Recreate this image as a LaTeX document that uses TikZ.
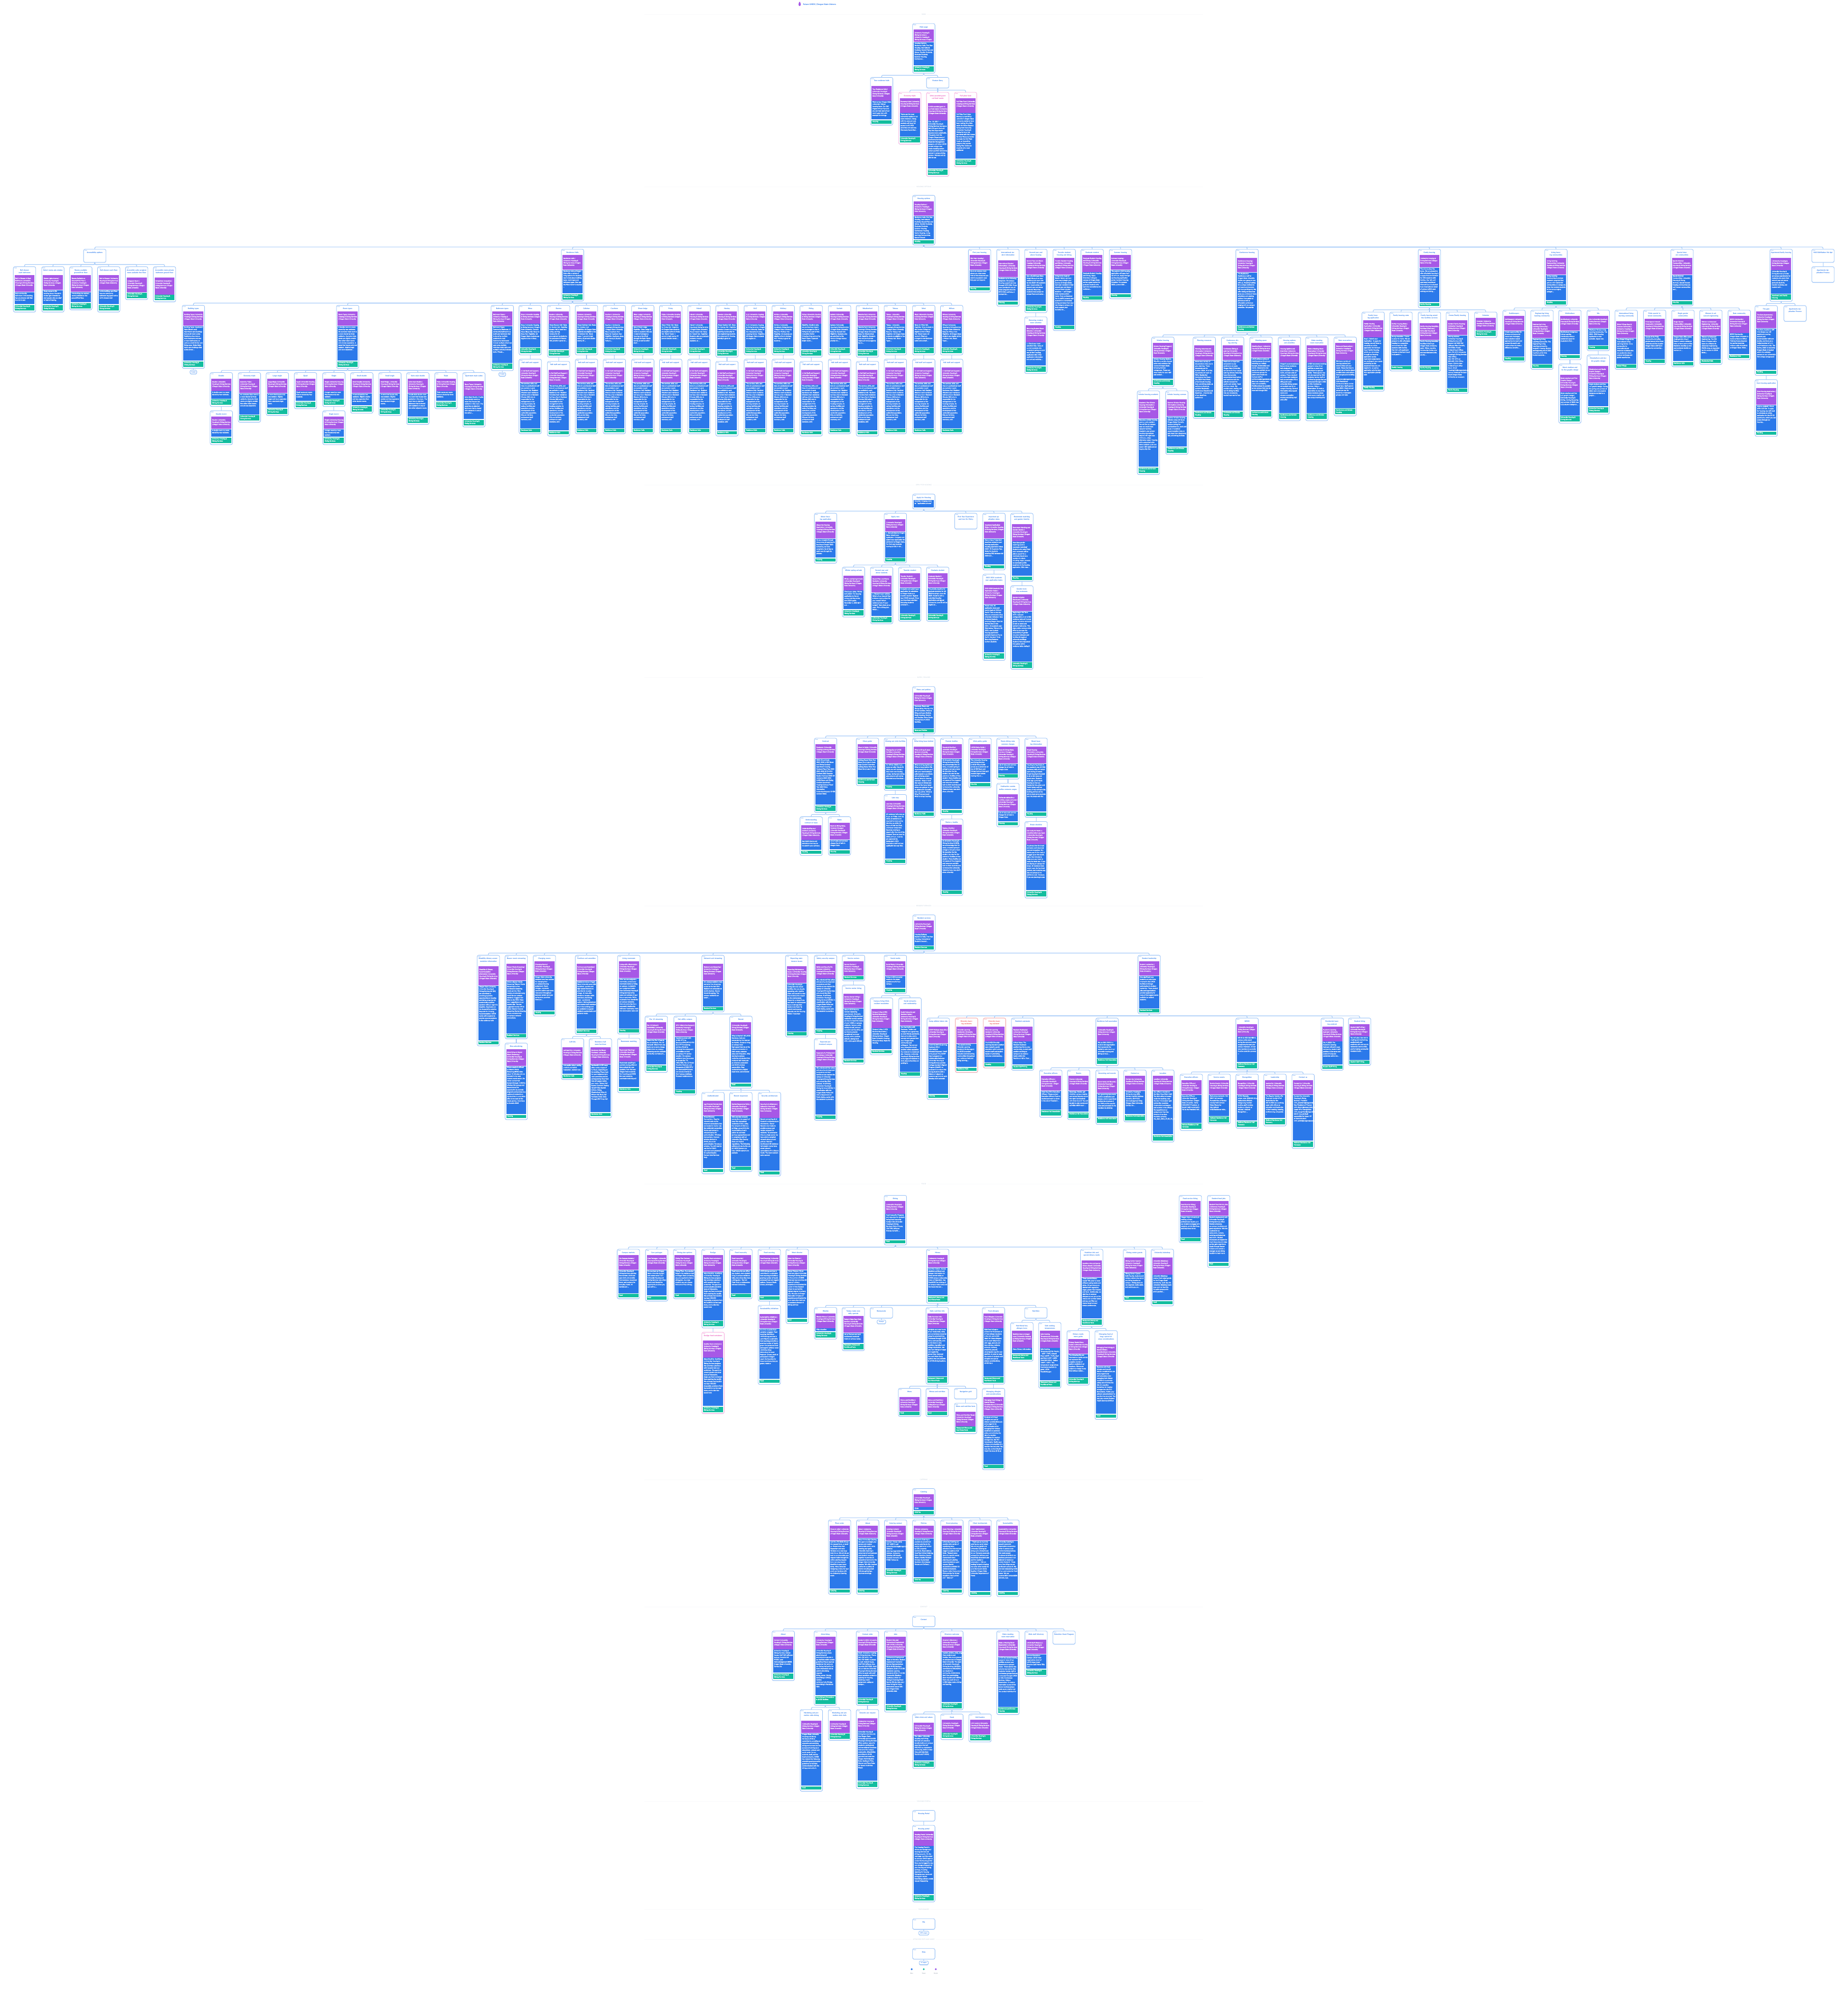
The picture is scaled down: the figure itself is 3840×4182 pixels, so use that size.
\documentclass[tikz,border=0pt]{standalone}
\usepackage{fontspec}
\setmainfont{Lato}
\newfontfamily\bodyfam{Lato}[FakeBold=0.25]
\definecolor{cblued}{HTML}{8DBBF6}\definecolor{cbluet}{HTML}{1A6FEA}
\definecolor{cpinkd}{HTML}{F7A6DC}\definecolor{cpinkt}{HTML}{E63FB0}
\definecolor{credd}{HTML}{F29A9A}\definecolor{credt}{HTML}{E8403F}
\definecolor{cpur}{HTML}{A758E6}\definecolor{cblu}{HTML}{2B79EA}\definecolor{cgrn}{HTML}{12BD9F}
\definecolor{cshad}{HTML}{D3E4FB}\definecolor{cconn}{HTML}{A3C9F8}
\definecolor{csep}{HTML}{F8F9FB}\definecolor{cseptx}{HTML}{C2CEDC}\definecolor{clegtx}{HTML}{8A94A3}
\tikzset{
 cardbox/.style={draw=cdraw,fill=white,rounded corners=3.3,line width=.85,minimum width=46.6pt,inner sep=0,outer sep=0},
 blk/.style={minimum width=41.7pt,inner sep=0,outer sep=0,anchor=north,text=white},
 conn/.style={draw=cconn,line width=1.2,rounded corners=2.4},
 titlenode/.style={anchor=north,text width=42pt,align=center,inner sep=0,text=ctitle,font=\fontsize{3.55}{5.33}\selectfont\bfseries},
 chipbox/.style={draw=cblued,fill=white,rounded corners=2,line width=.9,minimum height=7.6pt,inner sep=0,outer sep=0,anchor=north,text=cbluet,font=\fontsize{3}{4}\selectfont\bfseries},
 septext/.style={fill=white,inner sep=2.5,text=cseptx,font=\fontsize{3.3}{4}\selectfont},
 legtext/.style={text=clegtx,inner sep=0,font=\fontsize{3}{4}\selectfont},
}
\hbadness=10000 \vbadness=10000 \hfuzz=100pt \vfuzz=100pt
\newbox\cbxa \newbox\cbxb
\def\parsecounts#1 #2 #3 #4\relax{\def\cT{#1}\def\cP{#2}\def\cB{#3}\def\cG{#4}}
\newcommand\blocktext[4]{% height, top pad, lines, text
 \hbox to 41.7pt{\hskip1.7pt\vbox to #1pt{\vskip#2pt\relax
 \setbox\cbxa=\vbox{\hsize=38.8pt\parindent=0pt\raggedright\hyphenpenalty=10000\exhyphenpenalty=10000\tolerance=10000
 \bodyfam\fontsize{3.3}{4.67}\selectfont #4\par}%
 \splittopskip=0pt\splitmaxdepth=\maxdimen
 \setbox\cbxb=\vsplit\cbxa to \dimexpr4.67pt*#3+.3pt\relax
 \box\cbxb\vss}\hss}}
\def\roottop{49}
\newcommand\card[9][blue]{%
 \parsecounts#5\relax
 \colorlet{cdraw}{c#1d}\colorlet{ctitle}{c#1t}%
 \ifcsname cb@#3\endcsname\pgfmathsetmacro\cTop{\csname cb@#3\endcsname+9}\else\let\cTop\roottop\fi
 \pgfmathsetmacro\cYa{\cTop+12.3+5.33*(\cT-1)}%
 \pgfmathsetmacro\cHp{(\cP>0)*(4.67*\cP+7)}%
 \pgfmathsetmacro\cHb{(\cB>0)*(4.67*\cB+1.5)}%
 \pgfmathsetmacro\cHg{(\cG>0)*(4.67*\cG+2)}%
 \pgfmathsetmacro\cGa{and(\cP>0,or(\cB>0,\cG>0))*.7}%
 \pgfmathsetmacro\cGb{and(\cB>0,\cG>0)*1.7}%
 \pgfmathsetmacro\cYb{\cYa+\cHp+\cGa}%
 \pgfmathsetmacro\cYc{\cYb+\cHb+\cGb}%
 \pgfmathsetmacro\cBot{ifthenelse(\cP+\cB+\cG>0,\cYc+\cHg+3,\cTop+22+5.33*(\cT-1))}%
 \pgfmathsetmacro\cHt{\cBot-\cTop}%
 \pgfmathsetmacro\cLf{#4-23.3}\pgfmathsetmacro\cRt{#4+23.3}%
 \pgfmathsetmacro\cSa{\cTop+2}\pgfmathsetmacro\cSb{\cBot+1.1}%
 \pgfmathsetmacro\cDy{\cTop+2.6}\pgfmathsetmacro\cTy{\cTop+5.6}%
 \expandafter\xdef\csname cb@#2\endcsname{\cBot}\expandafter\xdef\csname cx@#2\endcsname{#4}%
 \fill[cshad,rounded corners=3.3] (\cLf,\cSa) rectangle (\cRt,\cSb);
 \node[cardbox,anchor=north,minimum height=\cHt pt] (#2) at (#4,\cTop) {};
 \ifcsname cb@#3\endcsname\draw[conn] (#3.south) -- ++(0,4.5) -| (#2.north);\fi
 \foreach \dd in {2.8,4.6,6.4}{\fill[cdraw!60!ctitle] (\cLf+\dd,\cDy) circle (.62);}
 \node[titlenode] (#2-t) at (#4,\cTy) {#6};
 \ifnum\cP>0 \node[blk,fill=cpur,minimum height=\cHp pt] (#2-p) at (#4,\cYa) {\blocktext{\cHp}{5.4}{\cP}{#7 | University Housing \& Dining Services | Oregon State University}};\fi
 \ifnum\cB>0 \node[blk,fill=cblu,minimum height=\cHb pt] (#2-b) at (#4,\cYb) {\blocktext{\cHb}{.9}{\cB}{#8}};\fi
 \ifnum\cG>0 \node[blk,fill=cgrn,minimum height=\cHg pt] (#2-g) at (#4,\cYc) {\blocktext{\cHg}{1}{\cG}{#9}};\fi
}
\newcommand\chip[4]{%
 \pgfmathsetmacro\cTop{\csname cb@#2\endcsname+4}%
 \pgfmathsetmacro\cSa{\cTop+2}\pgfmathsetmacro\cSb{\cTop+9}%
 \pgfmathsetmacro\cLf{\csname cx@#2\endcsname-#3/2}\pgfmathsetmacro\cRt{\csname cx@#2\endcsname+#3/2}%
 \fill[cshad!80!cblued,rounded corners=2] (\cLf,\cSa) rectangle (\cRt,\cSb);
 \node[chipbox,minimum width=#3pt] (#1) at (\csname cx@#2\endcsname,\cTop) {#4};
 \draw[conn] (#2.south) -- (#1.north);}
\newcommand\sepline[4]{% id y text halfgap
 \node[septext] (#1) at (1920,#2) {#3};
 \draw[csep,line width=.7] (1340,#2) -- (#1.west);
 \draw[csep,line width=.7] (#1.east) -- (2500,#2);}
\def\UD{University Housing \& Dining Services}
\def\GH{Housing}\def\GR{Residence Halls}\def\GS{Resident Services}\def\GF{Food}
\def\GC{Conference and Scholar Housing}\def\GA{Family Housing}\def\GM{Restaurant Menus and Nutritional Facts}
\def\GN{National Residence Hall Honorary}\def\GL{Residence Hall Association}\def\GT{Catering}
\def\HS{The services, skills, and time of a professional staff are available in each Residence Hall. Resident Directors Each residence hall has a live-in Resident Director (RD) who is responsible for the management of the housing complex, its various facilities and operations, and the development of the residential population. RDs are full-time, professional staff members, with}
\newcommand\hallcard[6]{% id cx name counts ptext btext
 \card{#1}{rh}{#2}{#4}{#3}{#5}{#6}{\UD}
 \card{#1s}{#1}{#2}{2 5 20 1}{Hall staff and support}{In Hall Staff and Support}{\HS}{\GR}}
\begin{document}
\begin{tikzpicture}[x=1pt,y=-1pt]
\useasboundingbox (0,0) rectangle (3840,4182);
\fill[white] (0,0) rectangle (3840,4182);
% header
\fill[cpur] (1662,9) ellipse (2.4 and 3.6);
\fill[cpur] (1662,5.2) circle (1.6);
\node[anchor=west,inner sep=0,text=cbluet,font=\fontsize{4.2}{5}\selectfont\bfseries] (hdr) at (1669,9) {Future UHDS | Oregon State Univers};
%%% MAIN
\sepline{s1}{30}{MAIN}{0}
\def\roottop{49}
\card{main}{-}{1920}{1 4 10 2}{Main page}{University Housing \& Dining Services |}{Housing Options, Residence Halls, First Year Housing, International Students, Second Year and Above, Transfer Students, Graduate Students, Summer Housing, Conference ...}{\UD}
\card{tour}{main}{1832.5}{2 5 8 1}{Tour residence halls}{Tour Residence Halls}{Want to tour Oregon State University? Virtual housing tours: Our 360 Degree Virtual Tours let you see how each of our room types look with example furnishings.}{\GH}
\card{feat}{main}{1949}{1 0 0 0}{Feature Story}{}{}{}
\card[pink]{econ}{feat}{1891}{1 5 10 2}{Economy triple}{Economy triple}{Triples are the most economical option in our room inventory. Along with the reduced cost, students still have full access to all UHDS amenities and services. One study found that ...}{\UD}
\card[pink]{ufals}{feat}{1949}{3 6 21 2}{Uhds awarded grant cut food waste}{UHDS awarded grant to cut food waste}{Dec. 18, 2017 --- University Housing \& Dining Services has won a \$47,372 grant that will help the department become more sustainable. The grant, from the Oregon Department of Environmental Quality's Materials Management program, will allow UHDS to start using a new waste-tracking system called LeanPath behind the scenes in campus dining centers. Workers will be able to use}{\UD}
\card[pink]{fplate}{feat}{2007}{1 5 20 2}{Full plate fund}{Full Plate Fund}{Full Plate Fund helps Beavers in need Since June 2017, Oregon State University residents have been making life a little easier for fellow Beavers facing food insecurity. University Housing \& Dining Services has partnered with the Human Services Resource Center to create the Full Plate Fund, an innovative program that awards Dining Plan Dollars to students who need additional}{\UD}
%%% HOUSING OPTIONS
\sepline{s2}{388}{HOUSING OPTIONS}{0}
\def\roottop{406}
\card{hopt}{-}{1920}{1 5 10 1}{Housing options}{Housing Options}{Residence Halls, First Year Housing, International Students, Second Year and Above, Transfer Students, Graduate Students, Summer Housing, Conference Housing, Family Housing, Living Learning Communities, Special Interest Communities, Apartments ...}{\GH}
\card{acc}{hopt}{197}{2 0 0 0}{Accessibility options}{}{}{}
\card{ac1}{acc}{51}{2 6 5 2}{Roll shower each bathroom}{Roll-In Shower In Each Bathroom}{Each community bathroom in this building has one shower stall that is a roll-in stall.}{\UD}
\card{ac2}{acc}{110}{2 5 6 2}{Select rooms ada strobes}{Strobe Lights Alarms}{Some rooms in this building have a fire alarm strobe light intended to alert people who are deaf or hard of hearing.}{\UD}
\card{ac3}{acc}{168}{2 6 4 2}{Rooms available ground/first floor}{Rooms Available on Ground/First Floor}{This building has resident rooms available on the ground/first floor.}{\UD}
\card{ac4}{acc}{226}{2 5 6 2}{Roll shower each floor}{Roll-In Shower}{In this building, each floor has one community bathroom equipped with a roll-in shower stall.}{\UD}
\card{ac5}{acc}{284}{3 5 0 2}{Accessible suite caregiver room available first floor}{Caregiver Room}{}{\UD}
\card{ac6}{acc}{342}{3 6 0 2}{Accessible room private bathroom ground floor}{Wheelchair Accessible}{}{\UD}
\card{rh}{hopt}{1190}{1 5 10 2}{Residence Halls}{Residence Halls}{Residence halls at Oregon State offer a variety of living options for students. Learn more about building types, room types and bathroom types, then use the filters below to explore ...}{\UD}
\card{btyp}{rh}{402}{1 5 15 2}{Building types}{Building Types}{Building Types. Apartment Style (Halsell only) Apartment-style buildings have multi-room suites. Residents share two or more bedrooms and one or more bathrooms, as well as a small kitchen and living room. Suites Style. Suite-style buildings offer suites where ...}{\UD}
\chip{btypc}{btyp}{14}{4 pages}
\card{rtyp}{rh}{722.6}{1 5 15 2}{Room types}{Room Types}{A double room is a room shared by two residents. An economy triple room is a room shared by three residents. Economy triple rooms are slightly smaller than other triple rooms and are less expensive. A room that houses only one resident. Slightly larger and more expensive ...}{\UD}
\card{r1}{rtyp}{460}{1 4 3 2}{Double}{Double}{A double room is a room shared by two residents.}{\UD}
\card{r1c}{r1}{460}{1 4 3 2}{Double (cont.)}{Double}{A double room is a room shared by two residents.}{\UD}
\card{r2}{rtyp}{518.5}{1 5 9 2}{Economy triple}{Economy Triple}{An economy triple room is a room shared by three residents. Economy triple rooms are slightly smaller than other triple rooms and are less expensive.}{\UD}
\card{r3}{rtyp}{576.5}{1 5 6 2}{Large single}{Large Single}{A room that houses only one resident. Slightly larger and more expensive than a standard single room.}{\UD}
\card{r4}{rtyp}{635}{1 4 4 2}{Quad}{Quad}{Quad rooms are rooms that are shared by four students.}{\UD}
\card{r5}{rtyp}{694}{1 4 3 2}{Single}{Single}{A single room is a room that houses only one resident.}{\UD}
\card{r5c}{r5}{694}{1 4 3 2}{Single (cont.)}{Single}{A single room is a room that houses only one resident.}{\UD}
\card{r6}{rtyp}{752}{1 5 5 2}{Small double}{Small Double}{A room shared by two residents. Slightly smaller and less expensive than other double rooms.}{\UD}
\card{r7}{rtyp}{810.5}{1 5 6 2}{Small single}{Small Single}{A room that houses only one resident. Slightly smaller and less expensive than standard single rooms.}{\UD}
\card{r8}{rtyp}{868.5}{1 5 10 2}{Suite style double}{Suite Style Double}{A suite style double room is a room that houses two residents in the room. The room has an attached bathroom that is shared with residents in one or two other adjacent rooms.}{\UD}
\card{r9}{rtyp}{927}{1 4 4 2}{Triple}{Triple}{Triple rooms are rooms that are shared by three residents.}{\UD}
\card{r10}{rtyp}{985}{2 5 10 2}{Apartment style suites}{Room Types}{Suite Style Double. A suite style double room is a room that houses two residents in the room. The room has an attached bathroom that is shared with residents in one or two other ...}{\UD}
\card{btb}{rh}{1044}{1 5 16 2}{Bathroom types}{Bathroom Types}{Bathroom Types. Community Bathroom. A community bathroom is a multi-user bathroom that is shared by multiple residents in a hall. Community bathrooms include multiple sinks in an open area, multiple individual toilet stalls and multiple individual shower stalls. Private ...}{\UD}
\chip{btbc}{btb}{14}{3 pages}
\hallcard{h1}{1102}{Bloss}{1 4 10 2}{Bloss}{Bloss | University Housing \& Dining Services | Oregon State University. Contact. About Bloss Hall. Rates for Bloss Hall. Eligibility: All Oregon State students are eligible to live in Bloss ...}
\hallcard{h2}{1161}{Buxton}{1 4 11 2}{Buxton}{About Buxton Hall. Rates for Buxton Hall. Eligibility: Buxton Hall is home to a Living Learning Community for pre-engineering students. For placement in Buxton Hall, priority is given to ...}
\hallcard{h3}{1219}{Callahan}{1 4 10 2}{Callahan}{About Callahan Hall. Rates for Callahan Hall. Eligibility: All Oregon State students are eligible to live in Callahan Hall. Room types: 1 percent single rooms, 43 percent double rooms, 56 ...}
\hallcard{h4}{1277}{Cauthorn}{1 4 10 2}{Cauthorn}{Cauthorn | University Housing \& Dining Services | Oregon State University. About Cauthorn Hall. Rates for Cauthorn Hall. Eligibility: Cauthorn, along with Hawley \& Buxton Halls, is ...}
\hallcard{h5}{1336}{Dixon lodge}{1 5 9 2}{Dixon Lodge}{About Dixon Lodge. Eligibility: Dixon Lodge is home to students who are in need of emergency housing as identified through the Basic Needs Center, as well as other short ...}
\hallcard{h6}{1394}{Finley}{1 4 10 2}{Finley}{About Finley Hall. Rates for Finley Hall. Eligibility: All Oregon State students are eligible to live in Finley Hall. Room Types: 1 percent single rooms, 99 percent double rooms ...}
\hallcard{h7}{1453}{Halsell}{1 4 10 2}{Halsell}{Halsell | University Housing \& Dining Services | Oregon State University. About Halsell Hall. Rates for Halsell Hall. Eligibility: Students who are graduate students, transfer students, or ...}
\hallcard{h8}{1511}{Hawley}{1 4 11 2}{Hawley}{About Hawley Hall. Rates for Hawley Hall. Eligibility: Hawley is home to a Living Learning Community for pre-engineering students. For placement in Hawley, priority is given to ...}
\hallcard{h9}{1570}{ILLC}{1 4 10 2}{ILLC}{ILLC | University Housing \& Dining Services | Oregon State University. Rates for the International Living Learning Center. Eligibility: All Oregon State students are eligible to ...}
\hallcard{h10}{1628}{McNary}{1 4 10 2}{McNary}{McNary | University Housing \& Dining Services | Oregon State University. Rates for McNary Hall. Eligibility: All students are eligible to live in McNary Hall. Priority is given to students ...}
\hallcard{h11}{1686}{Poling}{1 4 11 2}{Poling}{Eligibility: Students who are pre-Business majors are encouraged to live in Poling to be a part of the Innovation Nation living-learning community. Room Types: 3 percent single rooms ...}
\hallcard{h12}{1745}{Sackett}{1 4 10 2}{Sackett}{Sackett | University Housing \& Dining Services | Oregon State University. Rates for Sackett Hall. Eligibility: Students who are admitted to the Honors College receive priority for ...}
\hallcard{h13}{1803}{Weatherford}{1 5 10 2}{Weatherford}{Weatherford | University Housing \& Dining Services | Oregon State University. Rates for Weatherford Hall. Eligibility: Students who are pre-business majors are encouraged to live in ...}
\hallcard{h14}{1861}{Tebeau}{1 4 10 2}{Tebeau}{Tebeau | University Housing \& Dining Services | Oregon State University. Rates for Tebeau Hall. Eligibility: All Oregon State students are eligible to live in Tebeau Hall. Room Types ...}
\hallcard{h15}{1920}{West}{1 4 10 2}{West}{Rates for West Hall. Eligibility: Only students in the Honors College are eligible to live in West Hall. Room types: All rooms in West are arranged in two-bedroom suites and a small ...}
\hallcard{h16}{1978}{Wilson}{1 4 10 2}{Wilson}{Wilson | University Housing \& Dining Services | Oregon State University. Rates for Wilson Hall. Eligibility: All Oregon State students are eligible to live in Wilson Hall. Room Types ...}
\card{fy}{hopt}{2036}{1 5 7 1}{First year housing}{First Year Housing}{As an on-campus room places you steps away from all the resources you need to succeed in your first year and beyond.}{\GH}
\card{intl}{hopt}{2095}{3 6 10 1}{International student information}{International Student Information}{Available to the following programs: On-campus housing support services through INTO OSU. If you were admitted in one of those programs into the INTO OSU pathway, or contact the ...}{\GH}
\card{sec}{hopt}{2153}{2 6 13 2}{Second-year and above housing}{Second Year and Above Housing}{Get a \$1,000 loyal (Beta living) discount on your residence hall room rate for the 2023--24 academic year. Communities for second-year and above students: Returning students have access for unique floors and suites ...}{\UD}
\card{secr}{sec}{2153}{2 6 10 2}{Returning student room selection}{Returning Student Room Selection}{1. Check your room selection time. Here, all current students who completed spring one and two of their housing application/she initial application information are contract-existing ...}{\UD}
\card{trans}{hopt}{2212}{2 6 22 1}{Transfer student housing and dining}{Transfer Student Housing and Dining}{Living in the heart of Beaver Nation can be a great way to begin your journey at Oregon State. Each year students in their second year and above --- many of them transfer students --- call Oregon State residence halls home. From professional live-in staff to answer your questions to convenient dining and steps from your hall, living on campus can truly support your transition to ...}{\GH}
\card{grad}{hopt}{2270}{1 6 10 1}{Graduate student}{Graduate Student Housing and Dining}{Graduate Student Housing and Dining. Apply. Overview. Living on campus at Oregon State can be a great option for graduate students who want the convenience of a residence ...}{\GH}
\card{summ}{hopt}{2329}{1 5 10 1}{Summer housing}{Summer Housing}{The summer 2023 housing application will open April 26 at 9 a.m. Apply through our housing application portal. Summer Housing Schedule. For summer 2023, current OSU ...}{\GH}
\card{conf}{hopt}{2592}{2 5 23 2}{Conference housing}{Conference Housing}{The Residential Conference staff at Oregon State University invites your group to stay with us. Amazing hosting for a unique conference and event environment. We have participants! We offer dining services that gives you a choice of many selections and catering options from salads to dinners as well as affordable conference lodging with on-campus amenities. We provide}{\GC}
\card{cf1}{conf}{2417}{1 5 9 2}{Scholar housing}{Scholar Housing Program}{Scholar Housing Options. We offer a variety of great suites and residence hall rooms at Oregon State. Scholarly/Scholar newsgroups. Please see more rooms for your visit and contact ...}{\GC}
\card{cf1a}{cf1}{2387}{2 7 21 2}{Scholar housing academic}{Academic Year Scholar Housing Information}{Become a scholar housing room or suite resident. You will live on campus near our world class research facilities. Academic year scholar housing reservations require a 90 night stay minimum, unless otherwise noted. Housing with customized suite dates available up to one search 180 nights and an inquiry after the}{\GC}
\card{cf1b}{cf1}{2446}{2 6 13 2}{Scholar housing summer}{Summer Scholar Housing Information}{Summer Scholar Housing: Scholars enjoy will be an Oregon State! Corvallis campus during the summertime fun, work and study in furnished accommodation that are just steps from classrooms, labs, and dining facilities.}{\GC}
\card{cf2}{conf}{2503}{2 5 22 2}{Planning resources}{Planning resources and information}{Below are a variety of documents to help you in your planning. These documents are for Summer 2024. All of the documents will open as PDFs. Residential Conference Fee Sheet - Day 2024 Meal Week, prices include housing, linen, and dining totals, as well as an otherwise available Residential Conference Checklist and Deadlines - Checklist list of our deadlines, conference}{\GC}
\card{cf3}{conf}{2562}{2 5 22 2}{Conference dining catering}{Conference Dining \& catering}{Meals are an important component to any conference or event. Oregon State University can serve all of our casual catering delivery featuring items that provide concentrated food where and mealtime with the catholic mansard for quality and variety. Food of all our meals. We provide clean, roofing, and well-lit dining facilities that are consistently located near each of our}{\GC}
\card{cf4}{conf}{2621}{1 5 23 2}{Meeting space}{Meeting Space}{UHDS offers a variety of meeting spaces for groups including our holiday lounges, kitchenettes and rooms. Classrooms area spaces are available to our conference groups for public and private use. Contact staff at conference@oregonstate.edu about our meeting room rates and availability. Multifunctional is available across campus that may be reserved through OSU}{\GC}
\card{cf5}{conf}{2680}{2 6 22 2}{Housing options and amenities}{Housing Options and Amenities}{Oregon's accommodations feature three residence halls designed to accommodate in the west, north, and east sides of campus. These standard and suite-style residence halls accommodate 90 to 600 guests each. University dining centers are located near all on campus housing. General information about guest rooms and elevator-accessible wireless and dining mail units offer}{\GC}
\card{cf6}{conf}{2737}{2 6 22 2}{Make meeting room reservation}{Make a Meeting Room Reservation}{UHDS has several meeting spaces in many of our facilities to meet your department or group's needs. These spaces may only be reserved by OSU students, faculty, staff or conference groups that are contracted through UHDS or OSU Conference Services. Make a Reservation: To make a reservation at any of the below locations please send us an e-mail or call the contact individual for}{\GC}
\card{cf7}{conf}{2796}{1 6 21 2}{Rate reservations}{Rates and Reservations}{We have a variety of housing options (and rates) to help suit your needs. Please feel free to contact us to inquire about possible dates and options because group is travelling at all conference@oregonstate.edu. 2024 Residential Conference Rates can be found here. Staff open in June 2024. Meals are per person per day for students or teenagers groups, and rates}{\GC}
\card{fam}{hopt}{2971}{1 4 15 1}{Family housing}{}{There is no place like home. We are pleased to offer affordable housing in a supportive environment for OSU students with families. Our 161-unit apartment complex at Orchard Court is situated in an international corner of campus within easy walking and biking ...}{\GA}
\card{fm1}{fam}{2854}{2 6 21 1}{Family housing application}{Family Housing Application}{Step 1: Submit your Application. To apply for housing, you will have to complete an online application for Orchard Court Family Housing, which you can access through our housing application portal. Apartment assignments are contingent upon space availability on the placement fuse you are eligible for, as well as application priority date. Your application priority date}{\GA}
\card{fm2}{fam}{2912}{2 5 13 1}{Family housing rates}{Family Housing Rates}{Rising Amenities. Thanks to place for home, We are pleased to offer affordable housing in a supportive environment for OSU students with families. Our 161-unit apartment complex at Orchard Court is situated in ...}{\GA}
\card{fm3}{fam}{2971}{3 6 11 1}{Family housing amenities facilities services}{Family Housing Amenities, Facilities \& Services}{Family Housing Amenities, Facilities \& Services: Oregon State University apply. Water, Laundry, Community Center, one and two-bedroom units, on-site ...}{\GA}
\card{fm4}{fam}{3029}{2 5 23 1}{Comm/Family housing}{Contact Family Housing}{Mailing Address: University Housing \& Dining Services 102 Buxton Hall 1835 SW Jefferson Way Corvallis, OR 97331 Phone: Orchard Court Office: 541-737-4771 University Housing \& Dining Services Main Office: 541-737-4771 or 800-639-1761 Office Hours: Click to view Orchard Court office hours. Email: HousingInfo@oregonstate.edu Use our Universal Orchard Court Oregon State University as necessary}{\GA}
\card{fm5}{fam}{3088}{1 4 0 2}{Calendar}{Calendar}{}{\UD}
\card{llc}{hopt}{3234}{2 6 11 1}{Living learning communities}{Living Learning Communities}{Living Learning Communities (LLCs) are academic programs that partner with residential communities on campus to allow like-minded students to live across majors, colleges ...}{\GH}
\card{ll1}{llc}{3147}{1 5 11 1}{Earthkeepers}{Earthkeepers}{Create opportunities for diverse environmental issues and challenges, share solutions based approaches to reach and protect the earth, and inspire others to make a difference, benefits ...}{\GH}
\card{ll2}{llc}{3205}{3 6 11 1}{Engineering living learning community}{Engineering Living Learning Community}{Engineering Living Learning Community. The Engineering Living Learning community, located in Hawley, Buxton and beginning fall of 2019 Cauthorn, is for fully funded students ...}{\GH}
\card{ll3}{llc}{3263}{1 5 10 1}{Multiculture}{Multiculture}{Multicultural Indigenous Living Learning Community offers a residential space for students to find ...}{\GH}
\card{ll3a}{ll3}{3263}{3 6 10 2}{Music studium and its fine graphic design}{Music studium and Fine Graphic Design}{Music studium and fine LLC graphic design | University Housing \& Dining. During the spring and summer of 2022, two LLCs student designers ...}{\UD}
\card{ll4}{llc}{3322}{1 4 7 1}{Mu}{Mu}{Westburn Terrace Living Learning Community. The 2023--2024 housing application is now available. Apply now.}{\GH}
\card{ll4a}{ll4}{3322}{3 6 10 2}{Muralculture and studio graphic design}{Muralculture and Studio Graphic Design}{Music studium and Fine LLC graphic design. During the spring and summer of 2022, two LLCs student designers worked on a project ...}{\UD}
\card{sic}{hopt}{3496}{2 6 11 1}{Special interest communities}{Special Interest Communities}{Special Interest Communities | University Housing \& Dining Services. Special interest housing communities are well-known communities and ...}{\GH}
\card{si1}{sic}{3380}{3 6 11 1}{International living learning community}{Global Village Special Interest Community}{The Global Village is the International Living Learning Center. It is a community for international and American students who are passionate about cultural exchange and global experiences.}{Global Village}
\card{si2}{sic}{3439}{2 6 10 1}{Pride special interest community}{Pride Special Interest Community}{Guests of the Pride Community, including gender/sexual minoritized residents and the broader Oregon State LGBTQIA+ community connecting ...}{\GH}
\card{si3}{sic}{3498}{2 6 11 1}{Single gender communities}{Single Gender Communities}{Oregon State offers some single gender wing or floors in certain residence halls, to have communities: Residents identify as men and residents identify as women on ...}{Residence Halls}
\card{si4}{sic}{3556}{2 6 10 1}{Women in advanced engineering}{Women in Advanced Engineering}{Women in Advanced Engineering: The fifth floor of Buxton hall is home to a Women in Advanced Engineering (WAE) wing, as requested by the women in STEM fields ...}{Residential Halls}
\card{si5}{sic}{3615}{1 6 9 1}{Rate community}{ROTC Community}{ROTC Community. Oregon State University is home to Reserve Officer Training Corps programs for service branches, military units of students at Oregon State. More ...}{Residence Halls}
\card{apf}{hopt}{3702}{2 4 10 2}{Apartment/family housing}{}{University Housing \& Dining Services provides on-campus apartments for students who are in their second year and above, graduate students, transfer students, and student with ...}{Apartment and Family Housing}
\card{gem}{apf}{3671}{1 6 18 1}{The gem}{The Gem Apartments}{The Gem, located on SW 11th Street, has 129 apartments serving second-year students/older with one studios, but there are a limited number of 1, 2-, and 4-bedroom units. The facility, which is owned by Oregon State, is located within the walkable campus on our university's first college campground.}{\GH}
\card{gema}{gem}{3671}{2 6 11 1}{Gem housing application}{Gem Housing Application}{2023 to SUBMIT YOUR APPLICATION. To apply for housing, you will need to complete an online application for the 22-23 apartments, which you can access through our housing ...}{\GH}
\card{apa}{apf}{3731}{3 0 0 0}{Apartments Application Process}{}{}{}
\card{has}{hopt}{3789}{2 0 0 0}{HAS EAMilation Mx Apt}{}{}{}
\card{hasa}{has}{3789}{3 0 0 0}{Apartments Application Process}{}{}{}
%%% APPLY
\sepline{s3}{1008}{APPLY FOR HOUSING}{0}
\def\roottop{1027}
\card{app}{-}{1920}{1 0 3 0}{Apply for Housing}{}{Consider changing name to ``application process''}{}
\card{ap1}{app}{1716}{2 6 8 1}{About housing application}{About the Housing Application}{As you navigate through the process of applying for housing at Oregon State University, we have compiled a list of tips to assist you through the process.}{\GH}
\card{ap2}{app}{1861}{1 4 11 1}{Apply now}{}{1. Get admitted to Oregon State. Submit your application. Complete and submit your application for admission to Oregon State. For first-year students moving to OSU in fall ...}{\GH}
\card{ap2a}{ap2}{1774}{2 5 8 2}{Winter spring arrivals}{Winter and Spring Arrivals}{Check your dates. Winter term 2024: The housing application to live on campus starting winter term 2024 opens November 1, 2023 @ 9 p.m. ...}{\UD}
\card{ap2b}{ap2}{1832.5}{2 6 10 2}{Second year and above students}{Second Year and Above Students}{1. Research your options. Which of our Second Year \& Above communities fits your needs? Which residence halls fit your budget? Take a look at our rates. Pick a dining plan. Which ...}{\UD}
\card{ap2c}{ap2}{1891}{1 5 11 2}{Transfer student}{Transfer Student}{Complete and submit your application for admission to Oregon State as a transfer student. Register your ONID account. Once you have been admitted (including students enrolled in ...}{\UD}
\card{ap2d}{ap2}{1949}{1 5 11 2}{Graduate student}{Graduate Student}{The priority deadline for graduate students for fall 2023 housing is June 30, 2023. Students with a submitted housing application and signed contract by June 30 will be eligible to ...}{\UD}
\card{ap3}{app}{2007.5}{3 0 0 0}{First Year Experience and Live-On Policy}{}{}{}
\card{ap4}{app}{2066}{2 6 11 1}{Important application dates}{Important Application Dates}{Stay on top of important deadlines related to your housing application. Housing application dates: 2023--24 Academic Year. Dates for students entering OSU between fall 2023 and ...}{\GH}
\card{ap4a}{ap4}{2066}{3 7 21 2}{2023 2024 academic year application dates}{2023-2024 Academic Year Application Dates}{Please note: All application dates and events begin at 9:00 pm Pacific Time on the day they are scheduled unless otherwise indicated. New Students Students entering Oregon State for the first time in the 2021--22 academic year Wednesday, February 10, 2021: new student housing application available (opens at 9 p.m. Pacific Standard Time). Returning Students Current students}{\UD}
\card{ap5}{app}{2124}{3 6 15 1}{Roommate matching and gender identity}{Roommate Matching and Gender Identity}{How does gender matching work in roommate matching? Students who select their own roommate will be able to search for a roommate based on a number of criteria including: major, answers to roommate profile questions in the housing application, OSU class ...}{\GH}
\card{ap5a}{ap5}{2124}{2 6 22 2}{Gender inclusive restrooms}{Gender Inclusive Restrooms}{Beginning in Fall Term 2017, restroom configurations in all UHDS residence halls will include gender inclusive restrooms as well as men's and women's restrooms. This aligns with a campus-wide effort to increase the accessibility of gender inclusive restrooms and facilities throughout university buildings. Students have requested this option within residence halls, stating it}{\UD}
%%% RATES
\sepline{s4}{1408}{RATES / POLICIES}{0}
\def\roottop{1427}
\card{rat}{-}{1920}{1 4 10 1}{Rates and policies}{}{Contracts, Room and Dining Rates, Moving in to UHDS Facilities, What to Bring and Leave Behind, Break Housing, Parents and Families, Policy Guide, Moving Out of UHDS Facilities,}{Rates and Policies}
\card{cont}{rat}{1716}{1 5 20 2}{Contract}{Contracts}{2022-23 contracts 2022-2023 UHDS Room and Dining Contract Apartment Housing Contract Fiscal Year 2023 2022-2023 INTO-OSU Contract 2022 Summer Session Contract 2023-24 contracts 2023-2024 UHDS Room and Dining Contract Apartment Housing Contract Fiscal Year 2024 More Information Understanding your UHDS contract Rates}{\UD}
\card{cont1}{cont}{1686}{2 5 4 1}{Understanding contract or lease}{Understanding your contract}{See helpful terms and definitions that may be included in your contract.}{\GH}
\card{cont2}{cont}{1745}{1 6 4 1}{Rates}{Room \& Dining Rates, Common Charges}{List of rates and common charges for all halls in Oregon State}{\GH}
\card{move}{rat}{1803}{1 5 8 2}{Move guide}{Move In Guide}{Getting Ready Make Your Move Early/Late Arrivals Page Content Overview Getting Ready Make Your Move Early/Late Arrivals}{\GC}
\card{mout}{rat}{1861}{2 6 9 1}{Moving out uhds facilities}{Moving Out of UHDS Facilities}{For Winter 2023, if you move out after March 24, 2023, you will receive a daily room rate housing charge. Spring term dining plan amounts will not be refunded once they have ...}{\GH}
\card{late}{mout}{1861}{1 4 20 1}{Late stay}{Late Stay}{All residence halls close at 9 a.m. on Friday, June 16, 2023; all residents are required to move out by this time or within 24 hours of their last final, whichever comes first. Students needing to depart after the end of the Contract Term on June 16, 2023, at 9 a.m. must be pre-approved by designated UHDS Operations staff and pay applicable late stay fees.}{\GH}
\card{bring}{rat}{1920}{2 6 21 1}{What bring leave behind}{What to Bring \& Leave Behind}{What to bring Appliances What to leave behind We recommend that you work with your roommate(s) or suitemate(s) to coordinate who will bring certain shared items or cleaning materials. Keep in mind that space is limited and many of the items listed below are optional or may be obtained in Corvallis after you arrive. What to Bring Pinterest board What to bring Cleaning}{\GR}
\card{par}{rat}{1978}{1 5 22 1}{Parents families}{Parents \& Families}{At University Housing \& Dining Services (UHDS), we acknowledge that for many, a student going to college is not just a major life transition for the student, but also for the parents or families of that student. Many families are not aware of the programs and resources available both to their students and to them at the university. Federal privacy laws don't allow university}{\GH}
\card{padres}{par}{1978}{1 5 22 1}{Padres y familia}{Padres y Familia}{At University Housing \& Dining Services (UHDS), we acknowledge that for many, a student going to college is not just a major life transition for the student, but also for the parents or families of that student. Many families are not aware of the programs and resources available both to their students and to them at the university. Federal privacy laws don't allow university}{\GH}
\card{pol}{rat}{2037}{1 5 10 1}{Uhds policy guide}{UHDS Policy Guide}{The University Housing and Dining Services (UHDS) Policy Guide serves as an extension of the UHDS Room and Dining Contract that each resident signs before moving into an ...}{\GH}
\card{rdc}{rat}{2095}{2 6 4 1}{Room dining rates common charges}{Room \& Dining Rates, Common Charges}{List of rates and common charges for all halls in Oregon State}{\GH}
\card{rdce}{rdc}{2095}{3 6 4 1}{Habitación comida tarifas comunes cargos}{Tarifas de habitación y comidas, cargos comunes}{List of rates and common charges for all halls in Oregon State}{\GH}
\card{brk}{rat}{2153.5}{2 6 21 1}{Break housing information}{Break Housing Information}{Housing during breaks in the academic year All OSU residence halls will remain open during all breaks. Break Housing is included in all UHDS room and board rates. Students must sign up for break housing so that our Residential Education and Public Safety staff are aware of who will be in the building and we will be able to best serve students over the break with the}{\GH}
\card{brkc}{brk}{2153.5}{1 6 20 2}{Break checklist}{Get ready for break: a checklist before you leave}{It's almost time for break and some well-deserved rest and relaxation. But before you hit the road or snuggle up on the couch, take a few minutes to make sure your room is ready for break too. If you are staying on campus for break: All residence halls remain open during break periods, and residents may stay on campus at no additional cost. However, if you are planning to stay}{\UD}
%%% RESIDENT SERVICES
\sepline{s5}{1883}{RESIDENT SERVICES}{0}
\def\roottop{1901.5}
\card{res}{-}{1920.5}{1 4 5 1}{Resident services}{}{Housing Options: Residence Halls, First Year Housing, International Students Second ...}{\GS}
\card{e1}{res}{1015}{3 7 24 1}{Disability dietary accommodation information}{Disability \& Dietary Accommodation Information}{Oregon State University University Housing \& Dining Services (UHDS) are committed to providing equitable opportunities to housing and dining programs for academically qualified students without regard to disability. Read more on the Accessibility website. Requests for Housing Accommodation: UHDS works with students to provide accommodations in the residence halls}{\GS}
\card{e2}{res}{1073}{2 6 23 1}{Beaver movie streaming}{Beaver Movie Streaming}{What is Beaver Movie Streaming? Beaver Movie Streaming is a free on-demand streaming movie service. New movies are selected every month by our campus residents. Suggest new titles to the NHS. Make your suggestions on our movie's site. The top suggested movies will be added. Beaver Channel Streaming Movies listening is only available from on-campus network connections.}{\GS}
\card{e2a}{e2}{1073}{1 6 21 1}{Bma advertising}{Advertising on Beaver Movie Streaming}{What a movie is offered on Beaver Movie Streaming (BMS) video about 15 minutes and are included in the next streams movie watch, the viewer cannot fast forward through. UHDS is offering OSU groups and departments/the opportunity to promote programs and services to a captive of student by a standard fee in a one-time offer at the start of the movie service. Click Here to Submit a BMS}{\GH}
\card{e3}{res}{1131.5}{1 5 15 1}{Changing rooms}{Changing Rooms}{Oregon State University students have four options for changing their on-campus housing assignment: Room changes, roommate transfers within each term. Homework throughout between winter term and spring term, provided there are ...}{\GH}
\card{e4}{res}{1219}{2 6 21 1}{Furniture and amenities}{Furniture and Amenities}{Residence halls at Oregon State University come fully furnished. Laundry and high-speed internet are provided at no extra charge. All halls offer elevators, lounges, cable television, and dining areas. Laundromat options: Both professional and student staff members live in the buildings and are available to support residents academically and personal needs.}{\GS}
\card{e4a}{e4}{1190}{2 6 4 1}{Loft kits}{Loft Bed Kits}{Information about renting a loft kit and loft kit installation, resident hub.}{Residence Halls}
\card{e4b}{e4}{1248}{2 6 21 1}{Residence hall room furniture}{Residence Hall Room Furniture}{Residential UHDS room offers various types of furniture, depending on the building. Please look for your residence hall's room amenities and the corresponding floor/Item that will appear within your room. Tebeau Hall Buxton Cauthorn Hawley Halsell Finley Sackett McNary Poling, Weatherford, West, \& Wilson Hall Basic Hall Furniture, Desk, Chair, Through SW Finley Hall}{Residence Halls}
\card{e5}{res}{1307}{1 6 22 1}{Living roommate}{Living with a Roommate}{After you are assigned a roommate, contact your roommate before arriving on campus. Included in your assignment letter from University Housing \& Dining Services is the name and address of your future roommate. We're so proud of our wonderful on-campus residents. Here are some tips for a successful relationship with your roommate: Have the conversation early and}{\GH}
\card{e5a}{e5}{1307}{2 5 11 1}{Roommate matching}{Roommate Matching}{Roommate matching is available during different time periods for new students from first year Oregon State students. For incoming and 2023 first year students, roommate matching will}{Residence Halls}
\card{e6}{res}{1482}{2 6 11 1}{Network and streaming}{Network and Streaming}{On-campus residents have exclusive free streaming access to the fast OSU Network on computers or mobile devices. Beaver Movie Streaming, The campus-residents can watch ...}{\GS}
\card{e6a}{e6}{1364}{1 6 11 2}{Pac 12 streaming}{Pac-12 Network Availability}{Watch the Pac-12 sports live at residence. Pac-12 Network. Watch from any device at no extra charge. Watch from on-campus streaming service available on the Pac-12 Network ...}{\UD}
\card{e6b}{e6}{1424}{1 5 23 1}{Get utility campus}{IPTV: Watch On-Demand}{Experience more with UHDS IPTV by Spectrum(TM) (IPTV) IPTV is an IPTV streaming service offered to Oncecast for subsequent universities on their on-campus TV service solution. On-campus residents have live access to stream live TV, HBO/NBA, Pac-12 Power Plus/Pro Premium, and thousands of HBO/IPTV On-Demand(TM) shows and movies directly to their laptops, desktops. Personal mobile devices}{\GH}
\card{e6c}{e6}{1540}{1 4 21 1}{Resnet}{}{What is ResNet? All UHDS Residence Halls are connected by the Internet via ResNet. Students living on campus have high-speed internet of the network connection in their rooms, common areas and living halls. After moving to campus residents and student that residence hall rooms are an ethernet connection and ONID wireless connectivity. New residents have a higher experience, and ethernet}{\GF}
\card{e6c1}{e6c}{1482}{2 5 23 1}{Authenticated}{Log Ethernet Connections}{Wired Ethernet Connections: Plug the network cable to the ethernet connections that are located in rooms. Use the residential connection library and connect a network laptop for authentication. Wireless Connections: Connect wireless devices to ONID\_Secure for authenticated. For secure wireless. You will need to use the full ONID username and password for authentication. Contact Univ Services Help}{\GF}
\card{e6c2}{e6c}{1540}{2 5 22 1}{Resnet responsive}{ResNet Responsive Policy}{OSU provides network connections to support all bona fide educational residents of OSU. Using the network at OSU is a privilege, as such it is the responsibility of each patron to use these services appropriately and in compliance with all University City, County, State and Federal regulations. The following policies and use by the use of UHDS Partners are fully. UHDS network are available}{\GF}
\card{e6c3}{e6c}{1599.5}{2 6 23 1}{Security architecture}{Security \& Architecture}{Resnet connecting all of Student's environments to the Internet. One of Resnet's main tasks to provide a secure and reliable network for residents. To accomplish this on a single server we have strictly compiled network structure and policies. Resnet's Architecture All residence hall student rooms have wired network connections of in a Secure VLAN. The room network jacks connect}{\GF}
\card{e7}{res}{1656}{3 6 21 1}{Reporting maintenance issues}{Reporting Maintenance Issues}{University Housing \& Dining Services values facilities that are visually appealing, safe, healthy, clean, and sound in a way that minimize the impact on the environment. Please let us know if you see repair or maintenance issue or damage that needs to be fixed. To submit maintenance requests use the Housing Portal. If you have}{\GH}
\card{e8}{res}{1716}{2 5 22 1}{Safety security campus}{Safety and Security On Campus}{We understand that safety and security are important to students and their families as you explore the variety of University Housing \& Dining Services and around the OSU Campus. At all times, University Housing \& Dining Services (UHDS), in coordination with the Oregon State Police and OSU's Department of Public Safety, works with the students to provide a}{\GH}
\card{e8a}{e8}{1716}{3 6 21 1}{Expected professional campus}{Expected of a Professional on Campus}{We understand that safety and security are important to students and their families as you explore the variety of University Housing \& Dining Services and around the OSU Campus. At all times, University Housing \& Dining Services (UHDS), in coordination with the Oregon State Police and OSU's Department of Public Safety, works with the students to provide a}{\GH}
\card{e9}{res}{1774}{1 5 0 1}{Service centers}{Service Centers}{}{\GS}
\card{e9a}{e9}{1774}{2 5 22 1}{Service center hiring}{Service Center Hiring}{About UHDS Service Centers Operating experienced, University Housing \& Dining Services' residential service centers are how to meet the needs of over 4,500 on-campus residents. Serves a wide variety of staff, and our customer service skills, can be hired to provide exceptional customer service, with a positive attitude, strong work ethic, and a good attitude}{\GS}
\card{e10}{res}{1861}{1 5 5 1}{Social media}{Social Media}{Follow UHDS on social media for the latest updates on all of our campus.}{\GH}
\card{e10a}{e10}{1832}{3 7 9 1}{Campus living/Uhds resident newsletter}{Campus Living UHDS Resident Newsletter}{Campus Living: UHDS Resident Newsletter | University Housing \& Dining Services. Oregon State University Housing Dining Services, Apply Go Housing.}{\GS}
\card{e10b}{e10}{1891.5}{3 6 20 1}{Social networks and residentship}{Social Networks and Resident Safety}{Our fascination with Facebook, Twitter and Instagram are a great way to meet friends and family, stay up-to-date, and to connect with people from your Oregon State community and colleagues. You can use your networks to build positive online reputation. Our network is a balanced site. However, University Housing \& Dining Services encourages all residents to think about what they are posting to}{\GH}
\card{e11}{res}{2388.5}{1 5 14 1}{Student leadership}{Student Leadership}{One significant way students are able to be involved in the UHDS facilities is through participation in student leadership. These student jobs and organizations provide leadership for many of the largest events available to resident students.}{\GS}
\card{l1}{e11}{1950}{2 6 22 1}{Camp athlete intern site}{CAMP Athlete Intern Site}{CAMP (CAMP 4) Learning Assistant (ESL) | International Mindset/Explored. CAMP is Facebook! The CAMP intern program is a collaboration between University Housing \& Dining Services and the College Assistant Migrant Program (CAMP). Its purpose is to ensure that young students with a history of migrant or seasonal agricultural work develop their potential}{\GH}
\card[red]{l2}{e11}{2009}{2 6 10 1}{Diversity learning assistants}{Diversity Learning Assistants}{The award-winning Diversity Learning Assistant (DLA) program to UHDS promotes inclusion and welcoming communities throughout our residence halls and living-learning ...}{Residence Halls}
\card[red]{l3}{e11}{2067}{2 5 9 1}{Diversity learning assistant}{Diversity Learning Assistant}{The UHDS Diversity Learning Assistant position was created to assist education within and with student staff and student leaders in promoting inclusive understanding ...}{\GH}
\card{l4}{e11}{2125.5}{2 5 10 1}{Resident assistants}{Resident Assistants}{Critical Ideas: The Resident Assistant position has the to, your membership, student staff positive working on campus is to create a family within the Residence Hall or floor ...}{Student Staff Hiring}
\card{l5}{e11}{2301}{2 5 7 2}{Residence hall association}{}{We are RHA. RHA is a student-led organization that represents the residents who live in our university housing and dining services ...}{\GL}
\card{l5a}{l5}{2184}{1 5 8 2}{Executive officers}{Executive Officers}{Meet Your RHA Executive Officers! Please contact Executive Officers if you're excited and want to serve in the role of President ...}{\GL}
\card{l5b}{l5}{2242}{1 5 9 2}{Events}{Events}{Roomings, Mentor, got Ambition campus restyles and review Resume use on the right! Get involved with Area Council! You will be able to plan events and activities within your ...}{\GL}
\card{l5c}{l5}{2301}{2 5 10 2}{Governing and records}{Governance and Records}{Our governing documents outline constitution and bylaws, which respectively outline the structure of our RHA and the specific rules and processes for its members to abide by.}{\GL}
\card{l5d}{l5}{2359}{1 5 10 2}{Contact us}{Contact Us}{University Housing \& Dining Services 800, McNary Hall RM Address Corvallis, OR 97331 Acknowledgement Bldg (Oregon State University Contact Us ...}{\GL}
\card{l5e}{l5}{2417}{1 5 19 2}{Location}{Location}{Our office is located on the Main Floor (Main Hall) The RHA office is located inside the building, near the door it is located right behind the reception. Community's workspace and location in the office is Oct appointment or contact also from the director of services. Available contacts: rha\_chair\_2016\_19\_05\_19\_00\_pm.jpg}{\GL}
\card{l6}{e11}{2592}{1 4 11 2}{NRHH}{}{NRHH (UHDS 56) NRHH, campus-wide award during the community(ies) recognizing the best and campus members. All our new members is currently in active selection process ...}{\GN}
\card{l6a}{l6}{2476}{1 5 12 2}{Executive officers}{Executive Officers}{Executive Officers University Housing \& Dining Services | Oregon State University. Home NHS/WHH President. A Board (Hall) is selected in Fall to the President Hall ...}{\GN}
\card{l6b}{l6}{2534}{1 5 9 2}{Service events}{Service Events}{Past announcements: Oct 2019 Hall Journals Pumpkin Run of Benton County Park Contact. Make Waves for international NHS/Residence Halls...}{\GN}
\card{l6c}{l6}{2592}{1 5 11 2}{Recognition}{Recognition}{NCRH Website, screen\_shot\_2020-03-18\_at\_10.39.00.png. Nationwide officially recognizing member studies, staff member, studies or chapter or national. National Recognition ...}{\GN}
\card{l6d}{l6}{2650}{1 5 10 2}{Leadership}{Leadership}{The Regular Update offer Fund and I'm the VP of leadership for the NRHH/NHS as a working major with efforts to education and leadership in their meeting, meeting, conferencing, and greatly ...}{\GN}
\card{l6e}{l6}{2708.5}{1 5 20 2}{Contact us}{Contact Us}{Contact the University Housing \& Dining Services. President nrhh\_president@oregonstate.edu. Vice President of Finance: nrhh\_finance@oregonstate.edu. Upper VP of Recognition: nrhh\_recognition@oregonstate.edu. NRHH Council/Staff responsible for Upper VP of Administration: nrhh\_admin@oregonstate.edu}{\GN}
\card{l7}{e11}{2769}{2 5 10 1}{Residential learning assistant}{Academic Learning Assistant}{Dec 4, 2023. The Academic Learning Assistant offered in your community, student staff position, to be warm and social at its top are residential within the ...}{Student Staff Hiring}
\card{l8}{e11}{2826}{1 4 10 1}{Student hiring}{Student Staff Hiring}{You will play a key role in creating and maintaining academically and positively safe and secure residential communities, and in helping community members build ...}{Student Staff Hiring}
%%% FOOD
\sepline{s6}{2461}{FOOD}{0}
\def\roottop{2484.5}
\card{din}{-}{1861}{1 4 11 1}{Dining}{}{Food Insecurity Programs and resources for students facing food insecurity Contact Info University Housing \& Dining Services, Oxford House, 1567 SW Jefferson Avenue, Corvallis ...}{\GF}
\card{d1}{din}{1306}{1 5 10 1}{Campus markets}{On-Campus Markets}{University Housing \& Dining Services operates five markets, which are open daily and provide fresh produce, household items, and products for everyday needs. All markets are ...}{\GF}
\card{d2}{din}{1365}{1 5 11 1}{Care packages}{Care Packages}{Do you have an Oregon State University student who needs some TLC? University Housing and Dining Services now offers family and friends the opportunity to show you care with a ...}{\GF}
\card{d3}{din}{1423}{1 5 10 1}{Dining plan options}{Dining Plan Options}{Dining Plans: As a student living in the residence halls at Oregon State University, you are required to have a dining plan. As a new student, you can choose from one of four dining ...}{\GF}
\card{d4}{din}{1482}{1 6 21 2}{Eco2go}{Eco2Go food containers}{About Eco2Go: Eco2Go is a University Housing \& Dining Services program that provides customers with reusable take-out containers. The goal is to prevent plastic and other types of disposable, single-use food containers from reaching the landfill. We estimate that Eco2Go has kept 140,000 disposable containers from the landfill in its first year alone, and to date has saved more}{\UD}
\card[pink]{d4a}{d4}{1482}{2 6 21 2}{Eco2go food containers}{Eco2Go food containers}{About Eco2Go: Eco2Go is a University Housing \& Dining Services program that provides customers with reusable take-out containers. The goal is to prevent plastic and other types of disposable, single-use food containers from reaching the landfill. We estimate that Eco2Go has kept 140,000 disposable containers from the landfill in its first year alone, and to date has saved more}{\UD}
\card{d5}{din}{1540}{1 5 10 1}{Food insecurity}{Food Insecurity}{Food insecurity can affect any student, even students living in campus residence halls, even when they have a dining plan. The Full Plate Fund, a collaboration between University ...}{\GF}
\card{d6}{din}{1599}{1 5 11 1}{Food sourcing}{Food Sourcing}{UHDS dining services is committed to sustainable food sourcing and offers a growing number of locally produced food and organic options. Campus Made. Grown, developed ...}{\GF}
\card{d6a}{d6}{1599}{2 5 22 1}{Sustainability initiatives}{Sustainability Initiatives}{Eco 2 Go reusable food container program. Food Sourcing Definitions UHDS dining services is committed to sustainable food sourcing and offers a growing number of locally grown and produced food and organic options. Local: UHDS has three distinctions for local: Regional: Grown, made or processed in Oregon. Local: the Counties for those local items that are grown, made or}{\GF}
\card{d7}{din}{1657}{1 5 21 1}{Meet director}{Meet the Director}{Marty Peterson Marty Peterson joined University Housing \& Dining Services in the summer of 2008. Peterson has more than 30 years of culinary experience and started his career in New Zealand where he earned the highest degree in culinary arts. He came to Oregon State after 19 years of experience and leadership as an executive chef and an assistant director of dining services}{\GF}
\card{d8}{din}{1949}{1 4 12 2}{Menus}{}{Nutrition Details. Access detailed nutritional and allergen information for items served today at UHDS campus restaurants. Hours of Operation. See FoodWISE for a listing of all campus restaurants and the hours they are ...}{\GM}
\card{d8a}{d8}{1716}{1 5 1 2}{Weekly}{Weekly Menus}{Pick a location}{\UD}
\card{d8b}{d8}{1773.6}{2 6 4 2}{Todays make own daily specials}{Today's Make Own Daily Specials}{List of the low-cost and nutritionally balanced meals on campus today.}{\GM}
\card{d8c}{d8}{1832}{1 0 0 0}{Restaurants}{}{}{}
\chip{d8cc}{d8c}{18}{Voyager}
\card{d8d}{d8}{1948}{1 5 21 2}{Daily nutrition info}{Daily Nutrition Info}{Navigate your way to any of our restaurants, cafes, and convenience stores by using the provided links. To browse through UHDS menus and specials, click on the item to view nutrition, ingredient and allergy information. We also have listings of vegan and vegetarian, gluten-free, Halal and low-cost Make Cents options that are available in UHDS dining locations.}{\GM}
\card{d8d1}{d8d}{1890.5}{2 5 0 1}{Menu}{Menus and Nutrition}{}{\GF}
\card{d8d2}{d8d}{1948}{2 5 0 1}{Menus and nutrition}{Menus and Nutrition}{}{\GF}
\card{d8d3}{d8d}{2007}{1 0 0 0}{Navigation grid}{}{}{}
\card{d8d3a}{d8d3}{2007}{2 5 0 2}{Menu and nutrition facts}{Menu and Nutrition Facts}{}{\GM}
\card{d8e}{d8}{2065}{1 5 21 2}{Food allergies}{Food Allergies}{Eight food allergens account for 90 percent of all food allergic reactions in the U.S. and UHDS labels for these allergens are on each listed menu with eggs, peanuts and tree nuts (e.g. walnuts, almonds, cashews, pistachios, pecans), wheat/gluten soy fish and shellfish. In order to meet the needs of students with allergies and special dietary considerations, UHDS has a}{\GM}
\card{d8e1}{d8e}{2065}{2 7 21 1}{Managing allergies and considerations}{Managing Food Allergy \& Special Dietary Considerations}{Students with food allergies and special dietary considerations are encouraged to be self-advocates when managing their dietary conditions to promote safety and minimize the risk of a reaction. Guidelines for medical emergencies, dial 911 immediately. Notify your primary care physician if a reaction has occurred. You may also contact Student Health Services (SHS) at}{\GF}
\card{d8f}{d8}{2153}{1 0 0 0}{Nutrition}{}{}{}
\card{d8f1}{d8f}{2124}{2 6 2 2}{Nutritional key allergen icons}{Nutrition Key \& Allergen Icons}{Menu Dietary Information}{\GM}
\card{d8f2}{d8f}{2182}{2 6 14 2}{Safe cooking temperatures}{Safe Cooking Temperatures}{Safe Cooking Temperatures(TM): Poultry - 165F / 74PC, Ground Meat 160PF / 71PC, Beef and Pork 145PF / 63PC DANGER ZONE - Below 140PF / 60PC. This temperature range allows food-borne bacteria to grow. USDA FoodSafety.gov}{\GM}
\card{d9}{din}{2269}{3 6 18 2}{Nutrition info and special dietary needs}{Nutrition Info and Special Dietary Needs}{These special dietary needs? We cater to many different eating needs and styles. All our menus are labeled with vegetarian, vegan, gluten-free friendly and Halal. Additionally, we label for all common allergens as we can on the menus and nutrition labels and you can filter our menus based on your dietary preferences.}{\GM}
\card{d9a}{d9}{2241}{2 5 10 2}{Dietary needs menu guide}{Dietary Needs Menu Guide}{The following lists are intended as a guide and do not represent the complete variety of options available in all locations. Menus are subject to change at any time without notice ...}{\UD}
\card{d9b}{d9}{2299}{4 8 21 1}{Managing food allergy special dietary considerations}{Managing Food Allergy \& Special Dietary Considerations}{Students with food allergies and special dietary considerations are encouraged to be self-advocates when managing their dietary conditions to promote safety and minimize the risk of a reaction. Guidelines for medical emergencies, dial 911 immediately. Notify your primary care physician if a reaction has occurred. You may also contact Student Health Services (SHS) at}{\GF}
\card{d10}{din}{2358}{2 5 10 1}{Dining center guests}{Dining Center Guests}{Dining Center Guests: Staff, faculty, students and campus visitors may eat at any dining location on campus. Dining plans are not required; credit, debit, and mobile pay are ...}{\GF}
\card{d11}{din}{2416}{2 6 11 1}{University bakeshop}{University Bakeshop}{University Bakeshop creates fresh baked goods for the Oregon State community. Each day, the University Bakeshop team does early to feed the Corvallis campus with artful pastries ...}{\GF}
\card{fsh}{-}{2474}{1 5 9 1}{Food service hiring}{Food Service Hiring}{Oregon State University is seeking culinary professionals to join us in our mission to engage with students, enrich their lives, and help them thrive.}{\GF}
\card{fsj}{-}{2533}{1 5 20 1}{Student food jobs}{Student Food Service Jobs}{Student employment with University Housing \& Dining Services offers flexible schedules, on-campus locations and great experience. We hire students in our restaurants, markets, catering and bakeshop each term. Student employees are eligible for meal discounts and raises as they gain experience. Apply through Beaver Careers and contact a manager at any dining location to learn more.}{\GF}
%%% CATERING
\sepline{s7}{3076}{CATERING}{0}
\def\roottop{3094}
\card{cat}{-}{1920}{1 4 1 1}{Catering}{}{Order}{\GT}
\card{c1}{cat}{1745}{1 5 21 1}{Place order}{Place an order}{Call 541.737.3640, fill out the request form, or email us. Please know that September and early October are a very busy time for us. We will do our best to accommodate your request made through the online catering request form, but may require flexibility in your event times. Menu Selection Designing a menu for your event can be done with the University Catering event}{\GT}
\card{c2}{cat}{1803.4}{1 4 22 1}{About}{About}{About University Catering Our goal is to delight your senses and create a memorable event, while meeting your goals. University Catering is comprised of professionals and students working together to provide an exceptional service for the Oregon State University campus. We offer inspired cuisine for a variety of events including small intimate gatherings, business meetings,}{\GT}
\card{c3}{cat}{1861.5}{1 5 12 2}{Catering contact}{Catering Contact}{Contact: Phone: (541) 737-1600 E-mail: universitycatering@oregonstate.edu Website: catering.oregonstate.edu Address: University Catering 140 Arnold Complex Corvallis, OR 97331 Follow Us}{\UD}
\card{c4}{cat}{1920}{1 4 17 1}{Policies}{Policies}{University Catering is available to provide full service catering to the events held on or within an OSU property. Contracts, Reservations; CaterTrax Online Ordering, Menu Selection; Special Dietary Needs; Multiple Entrees; Guaranteed Numbers; On-Campus Venues and Delivery ...}{\GT}
\card{c5}{cat}{1978.5}{1 5 21 1}{Event planning}{Event Planning}{University Catering can provide wide variety of appetizing menu selections for informal and elegant occasions of all kinds. Themed menu items for special events; Customized menu planning and catering recommendations upon request; Special decorations available for ambience (balloons, flowers, table linens, etc.); China service for formal occasions; Box lunches and ``take out''}{\GT}
\card{c6}{cat}{2037}{1 5 22 1}{Client testimonials}{Client Testimonials}{``Thank you so much for catering our party today! We are very grateful to University Catering for doing such a fantastic job for us. Everyone especially enjoyed the delicious and beautifully decorated cake and the raspberry lemonade [...]. We are looking forward to having you cater other events for us in the future! Arielle Southern Oregon State University Department of Forest}{\GT}
\card{c7}{cat}{2095}{1 5 22 1}{Sustainability}{Sustainability}{University Catering is proud to promote responsible stewardship when it comes to our environmental practices. We made several fundamental shifts in our business processes in an attempt to lessen our carbon footprint. These are a few things we are particularly proud of: We are now composting 100\% of our post consumer food waste. We use commercially compostable utensils, cups,}{\GT}
%%% CONTACT
\sepline{s8}{3340}{CONTACT}{0}
\def\roottop{3359}
\card{ct}{-}{1920}{1 0 0 0}{Contact}{}{}{}
\card{ct1}{ct}{1628}{1 4 10 2}{About}{Contact}{University Housing \& Dining Services, Oxford House, 1567 SW Jefferson Avenue, Corvallis OR 97333. Land Acknowledgement B0001 Oregon State University, Contact Us}{\UD}
\card{ct2}{ct}{1715.4}{1 4 20 3}{Advertising}{}{University Housing \& Dining Services allows advertising and promotional materials in our facilities within certain guidelines.Please read our Residence Hall policy or our Dining Hall policy for more information and to submit advertising requests. dining\_center\_link.jpg Advertising in Dining Centers residence\_halls\_link.jpg Advertising in Residence Halls}{Advertising \& Promotions in UHDS facilities}
\card{ct2a}{ct2}{1686.4}{3 4 23 1}{Marketing and promotion uhds dining}{}{Oregon State University Housing and Dining Services (UHDS) is committed to providing an enjoyable and enriching dining environment for the purpose of serving as an educational, cultural, and social center for our students, staff, and the local community. UHDS has created the following advertising and promotion guidelines to facilitate communication with the dining community in}{\GF}
\card{ct2b}{ct2}{1745}{3 4 0 2}{Marketing and promotion uhds halls}{}{}{\UD}
\card{ct3}{ct}{1803}{1 5 20 2}{Contact uhds}{Contact UHDS}{Email: University Housing \& Dining Services. Phone: 541-737-4771. Fax: 541-737-0688. In person or mail: Oxford House, 1567 SW Jefferson Ave., Corvallis OR 97333. Email, call, or visit the University Housing \& Dining Services office to speak with staff about questions related to applying for housing, receiving a room assignment, eating on campus ...}{\UD}
\card{ct3a}{ct3}{1803}{2 4 22 2}{Grounds use request}{}{University Housing \& Dining Services Grounds Use Oregon State University and University Housing \& Dining Services offers outdoor space for academic, professional, and recreational functions that serve the campus community. All activities occurring on UHDS grounds must meet the Oregon Administrative Rules relating to Time, Manner and Place Rules for Speech Activities. Please}{\UD}
\card{ct4}{ct}{1861.5}{1 7 21 2}{Jobs}{Student Jobs and Professional Employment with UHDS}{Professional Employment Name at this time. Student Employment Customer Service Representatives 2016 UHDS Resident Assistants 2016-17 UHDS Academic Learning Assistants 2016-17 UHDS Community Relations Facilitators 2016-17 Dining \& Catering (Food Service Worker jobs, etc.) (Now hiring) For more information about OSU jobs Oregon State University Jobs}{\UD}
\card{ct5}{ct}{1978.5}{1 5 22 2}{Directors welcome}{Director's Welcome}{stephen\_jenkins\_uhds\_oregon\_state\_university\_2013pa.jpg Dear students and families, We are so pleased to welcome you to Oregon State University! The team at University Housing \& Dining Services (UHDS) is committed to ENGAGING our students in community, ENRICHING their lives, and helping them flourish and THRIVE. Every day, each of us in UHDS helps create a living and learning}{\UD}
\card{ct5a}{ct5}{1920}{2 4 11 2}{Uhds vision and values}{}{Our vision: University Housing and Dining Services will provide a transformative on-campus experience that will ENGAGE our students in community, ENRICH their lives, and help them flourish and THRIVE.}{\UD}
\card{ct5b}{ct5}{1978.5}{1 4 0 2}{Goals}{}{}{\UD}
\card{ct5c}{ct5}{2037}{1 5 0 2}{Unit leaders}{Unit Leaders}{}{\UD}
\card{ct6}{ct}{2095}{2 6 22 2}{Make meeting room reservation}{Make a Meeting Room Reservation}{UHDS has several meeting spaces in many of our facilities to meet your department or group's needs. These spaces may only be reserved by OSU students, faculty, staff or conference groups that are contracted through UHDS or OSU Conference Services. Make a Reservation: To make a reservation at any of the below locations please send us an e-mail or call the contact individual for}{\GC}
\card{ct7}{ct}{2153.5}{2 5 6 2}{Uhds staff directory}{UHDS Staff Directory}{General Questions: Contact UHDS View organization chart of UHDS department directors (pdf) Name Title Unit}{\UD}
\card{ct8}{ct}{2211.6}{2 0 0 0}{Retention Grant Program}{}{}{}
%%% PORTAL
\sepline{s9}{3744}{HOUSING PORTAL}{0}
\def\roottop{3763}
\card{hp}{-}{1920}{1 0 0 0}{Housing Portal}{}{}{}
\card{hpa}{hp}{1920}{1 5 21 2}{Housing portal}{Housing Portal}{The Housing Portal is where you manage your housing services and dining accounts. On the next page, you'll be asked to use your ONID login to access the housing portal. Once you're logged in, you can manage all aspects of your housing and dining services, including: Applying for housing Managing your room and dining plan details Submitting a dietary needs request Requesting}{\UD}
%%% FILES
\sepline{s10}{3969}{FILES/IMAGES}{0}
\def\roottop{3988}
\card{file}{-}{1920}{1 0 0 0}{File}{}{}{}
\chip{filec}{file}{21}{3391 pages}
\sepline{s11}{4031}{ATTACHED PDFS AND MORE}{0}
\def\roottop{4050}
\card{sites}{-}{1920}{1 0 0 0}{Sites}{}{}{}
\chip{sitesc}{sites}{19}{47 pages}
% legend
\fill[cbluet] (1895,4093) circle (2);
\fill[cgrn] (1920,4093) circle (2);
\fill[cpur!90!blue] (1945,4093) circle (2);
\node[legtext] (lg1) at (1895,4102) {Blue};
\node[legtext] (lg2) at (1920,4102) {Topaz};
\node[legtext] (lg3) at (1945,4102) {Purple};
\end{tikzpicture}
\end{document}
